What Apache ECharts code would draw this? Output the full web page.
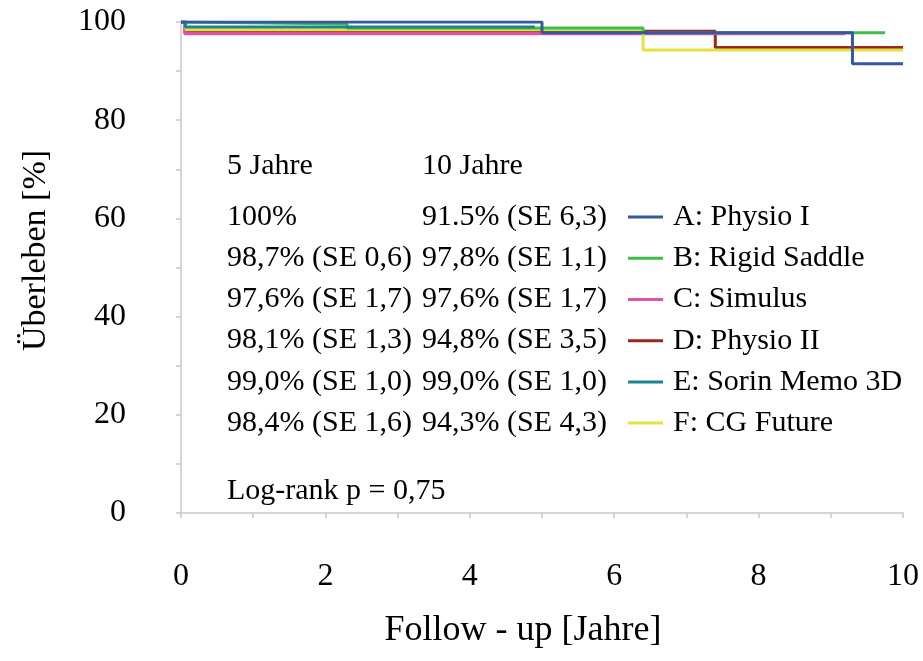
<!DOCTYPE html>
<html>
<head>
<meta charset="utf-8">
<script src="https://cdn.jsdelivr.net/npm/echarts@6/dist/echarts.min.js"></script>
<style>html,body{margin:0;padding:0;background:#fff}#c{width:923px;height:661px}</style>
</head>
<body>
<div id="c"></div>
<script>
// Series (time in years, survival in %)
var seriesNames = ['A: Physio I', 'B: Rigid Saddle', 'C: Simulus', 'D: Physio II', 'E: Sorin Memo 3D', 'F: CG Future'];
var seriesColors = ['#35589f', '#3cbf4a', '#e052a8', '#9a2620', '#1b8494', '#e4e23e'];
var curveA = [[0, 100], [5.0, 97.8], [9.3, 91.5], [10, 91.5]];
var curveB = [[0, 100], [0.08, 99.6], [2.3, 98.8], [6.4, 97.8], [9.75, 97.8]];
var curveC = [[0, 100], [0.05, 97.6], [9.2, 97.6]];
var curveD = [[0, 100], [0.06, 98.1], [7.4, 94.8], [10, 94.8]];
var curveE = [[0, 100], [0.06, 99.0], [4.9, 99.0]];
var curveF = [[0, 100], [0.07, 98.4], [6.4, 94.3], [10, 94.3]];
var curves = [curveA, curveB, curveC, curveD, curveE, curveF];
var drawOrder = [3, 2, 5, 1, 4, 0]; // bottom to top

// Table text
var tableHeaders = ['5 Jahre', '10 Jahre'];
var fiveYear = ['100%', '98,7% (SE 0,6)', '97,6% (SE 1,7)', '98,1% (SE 1,3)', '99,0% (SE 1,0)', '98,4% (SE 1,6)'];
var tenYear = ['91.5% (SE 6,3)', '97,8% (SE 1,1)', '97,6% (SE 1,7)', '94,8% (SE 3,5)', '99,0% (SE 1,0)', '94,3% (SE 4,3)'];
var logRank = 'Log-rank p = 0,75';

// Axes
var xTickLabels = [0, 2, 4, 6, 8, 10];
var yTickLabels = [0, 20, 40, 60, 80, 100];
var xTitle = 'Follow - up [Jahre]';
var yTitle = 'Überleben [%]';

var FONT = "'Liberation Serif', 'Times New Roman', serif";
var TFS = 30;
var chart = echarts.init(document.getElementById('c'));

var series = drawOrder.map(function (i) {
  return {
    name: seriesNames[i],
    type: 'line',
    step: 'end',
    data: curves[i],
    symbol: 'none',
    showSymbol: false,
    color: seriesColors[i],
    lineStyle: { width: 3, color: seriesColors[i] },
    animation: false
  };
});

function txt(x, y, s) {
  return { type: 'text', x: x, y: y, style: { text: s, font: TFS + 'px ' + FONT, fill: '#000', verticalAlign: 'middle', align: 'left' } };
}
var graphics = [];
var col1 = 227, col2 = 422;
graphics.push(txt(col1, 166, tableHeaders[0]));
graphics.push(txt(col2, 166, tableHeaders[1]));
for (var r = 0; r < fiveYear.length; r++) {
  var yc = 217 + 41.2 * r;
  graphics.push(txt(col1, yc, fiveYear[r]));
  graphics.push(txt(col2, yc, tenYear[r]));
}
graphics.push(txt(col1, 491, logRank));

chart.setOption({
  animation: false,
  backgroundColor: '#fff',
  grid: { left: 181, right: 20, top: 22, bottom: 148, containLabel: false },
  legend: {
    data: seriesNames,
    orient: 'vertical',
    left: 628,
    top: 201,
    padding: 0,
    icon: 'rect',
    itemWidth: 35,
    itemHeight: 3,
    itemGap: 9,
    textStyle: { fontFamily: FONT, fontSize: TFS, color: '#000', lineHeight: 32.2, padding: [0, 0, 0, 5] }
  },
  xAxis: {
    type: 'value',
    min: 0, max: 10, interval: 1,
    name: xTitle,
    nameLocation: 'middle',
    nameGap: 100,
    nameTextStyle: { fontFamily: FONT, fontSize: 36, color: '#000', padding: [0, 38, 0, 0] },
    axisLine: { show: true, lineStyle: { color: '#c8c8c8', width: 1.5 } },
    axisTick: { show: true, length: 5, lineStyle: { color: '#c8c8c8', width: 1.5 } },
    axisLabel: {
      margin: 48, fontFamily: FONT, fontSize: 32, color: '#000',
      formatter: function (v) { return xTickLabels.indexOf(v) >= 0 ? String(v) : ''; }
    },
    splitLine: { show: false }
  },
  yAxis: {
    type: 'value',
    min: 0, max: 100, interval: 10,
    name: yTitle,
    nameLocation: 'middle',
    nameGap: 128,
    nameRotate: 90,
    nameTextStyle: { fontFamily: FONT, fontSize: 34, color: '#000', padding: [0, 0, 0, 34] },
    axisLine: { show: true, lineStyle: { color: '#c8c8c8', width: 1.5 } },
    axisTick: { show: true, length: 5, lineStyle: { color: '#c8c8c8', width: 1.5 } },
    axisLabel: {
      margin: 55, fontFamily: FONT, fontSize: 32, color: '#000',
      formatter: function (v) { return yTickLabels.indexOf(v) >= 0 ? String(v) : ''; }
    },
    splitLine: { show: false }
  },
  graphic: graphics,
  series: series
});
</script>
</body>
</html>
